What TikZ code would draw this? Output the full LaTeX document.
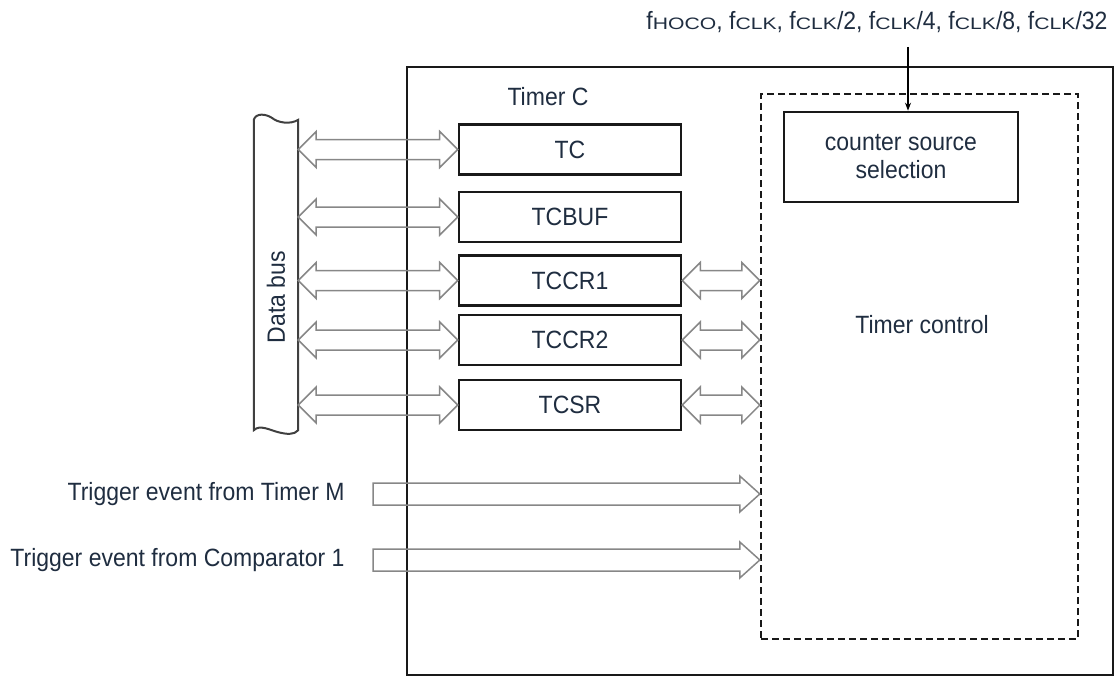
\documentclass[tikz,border=0pt]{standalone}
\usepackage{graphicx}
\usepackage{fontspec}
\setmainfont{Liberation Sans}[FakeStretch=0.92]
\usetikzlibrary{arrows.meta, calc, positioning}

\definecolor{labelnavy}{RGB}{31,45,64}
\definecolor{busgray}{RGB}{135,135,135}

% hollow double arrow between two points
\newcommand{\busarrow}[2]{%
  \draw[hollow] let \p1=#1, \p2=#2 in
    (\x1,\y1) -- (\x1+18pt,\y1+18pt) -- (\x1+18pt,\y1+10pt)
    -- (\x2-18pt,\y2+10pt) -- (\x2-18pt,\y2+18pt) -- (\x2,\y2)
    -- (\x2-18pt,\y2-18pt) -- (\x2-18pt,\y2-10pt)
    -- (\x1+18pt,\y1-10pt) -- (\x1+18pt,\y1-18pt) -- cycle}
% hollow single arrow
\newcommand{\eventarrow}[2]{%
  \draw[hollow] let \p1=#1, \p2=#2 in
    (\x1,\y1+11pt) -- (\x2-20pt,\y2+11pt) -- (\x2-20pt,\y2+18pt) -- (\x2,\y2)
    -- (\x2-20pt,\y2-18pt) -- (\x2-20pt,\y2-11pt) -- (\x1,\y1-11pt) -- cycle}
% clock name with flat subscript
\newcommand{\fsrc}[1]{f\scalebox{1}[0.72]{\fontsize{23}{23}\selectfont #1}}

\begin{document}
\begin{tikzpicture}[x=1pt, y=-1pt,
    every node/.style={text=labelnavy, font=\fontsize{25}{30}\selectfont},
    register/.style={draw=black!90, line width=2.6pt, minimum width=222pt,
      minimum height=50pt, inner sep=0pt},
    hollow/.style={draw=busgray, line width=1.5pt, line join=miter}]
    \useasboundingbox (0,0) rectangle (1117,677);

    % Timer C block
    \draw[line width=2.2pt, black!90] (407,67) rectangle (1113,675);
    \node (timerc) at (548,97) {Timer C};

    % timer control
    \node[draw=black!90, line width=2.4pt, dash pattern=on 7pt off 4pt,
      minimum width=317pt, minimum height=545pt] (ctrl) at (919.5,366.5) {};
    \node (ctrllabel) at (922,325) {Timer control};
    \node[draw=black!90, line width=2.6pt, minimum width=234pt, minimum height=90pt,
      align=center, font=\fontsize{25}{28}\selectfont] (css) at (901,157)
      {counter source\\selection};

    % count sources
    \node (clk) at (877,22) {\fsrc{HOCO}, \fsrc{CLK}, \fsrc{CLK}/2, \fsrc{CLK}/4, \fsrc{CLK}/8, \fsrc{CLK}/32};
    \coordinate (clkin) at (908,47);
    \draw[line width=1.2pt, -{Stealth[length=8pt, width=6pt]}] (clkin) -- (clkin |- css.north);

    % registers
    \node[register] (tc) at (570,149.5) {TC};
    \node[register] (tcbuf) at (570,217) {TCBUF};
    \node[register] (tccr1) at (570,280.5) {TCCR1};
    \node[register] (tccr2) at (570,340) {TCCR2};
    \node[register] (tcsr) at (570,405) {TCSR};

    % data bus
    \node[minimum width=44pt, minimum height=310pt, inner sep=0pt] (bus) at (276,275) {};
    \node[rotate=90] (buslabel) at (276,297) {Data bus};
    \draw[line width=2pt, black!75] (bus.south west) -- (bus.north west)
      .. controls +(2,-7) and +(-6,-4) .. ++(18,-2)
      .. controls +(6,5) and +(-8,5) .. (bus.north east)
      -- (bus.south east)
      .. controls +(-4,5) and +(8,2) .. ++(-20,2)
      .. controls +(-8,-2) and +(6,-6) .. (bus.south west) -- cycle;

    \foreach \reg in {tc, tcbuf, tccr1, tccr2, tcsr} {
      \busarrow{(bus.east |- \reg.west)}{(\reg.west)};
    }
    \foreach \reg in {tccr1, tccr2, tcsr} {
      \busarrow{(\reg.east)}{(ctrl.west |- \reg.east)};
    }

    % trigger inputs
    \coordinate (trigm) at (373,494);
    \coordinate (trigcmp) at (373,560);
    \node[left=25pt of trigm] (trigmlabel) {Trigger event from Timer M};
    \node[left=25pt of trigcmp] (trigcmplabel) {Trigger event from Comparator 1};
    \eventarrow{(trigm)}{(ctrl.west |- trigm)};
    \eventarrow{(trigcmp)}{(ctrl.west |- trigcmp)};
\end{tikzpicture}
\end{document}
